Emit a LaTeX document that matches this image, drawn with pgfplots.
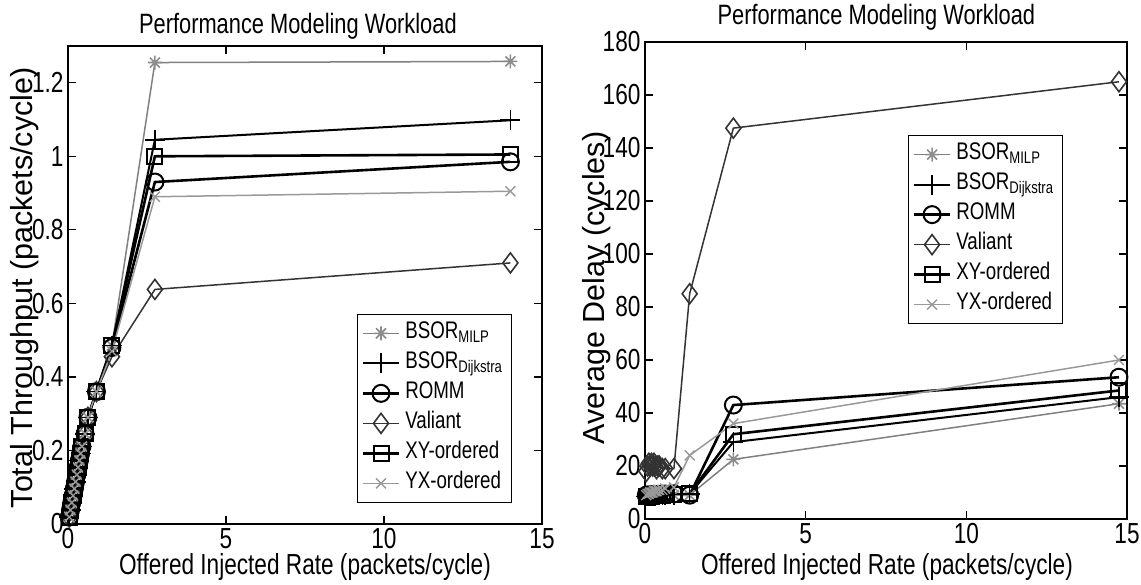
\documentclass[border=0pt]{standalone}
\usepackage{fontspec}
\setmainfont{Liberation Sans}[FakeStretch=0.78]
\newfontfamily\ylabfont{Liberation Sans}
\usepackage{pgfplots}
\pgfplotsset{compat=1.18}
\usepackage{pgfplotstable}

\pgfdeclareplotmark{mstar}{%
 \pgfpathmoveto{\pgfqpoint{-\pgfplotmarksize}{0pt}}\pgfpathlineto{\pgfqpoint{\pgfplotmarksize}{0pt}}%
 \pgfpathmoveto{\pgfqpoint{0pt}{-\pgfplotmarksize}}\pgfpathlineto{\pgfqpoint{0pt}{\pgfplotmarksize}}%
 \pgfpathmoveto{\pgfqpoint{-0.707\pgfplotmarksize}{-0.707\pgfplotmarksize}}\pgfpathlineto{\pgfqpoint{0.707\pgfplotmarksize}{0.707\pgfplotmarksize}}%
 \pgfpathmoveto{\pgfqpoint{-0.707\pgfplotmarksize}{0.707\pgfplotmarksize}}\pgfpathlineto{\pgfqpoint{0.707\pgfplotmarksize}{-0.707\pgfplotmarksize}}%
 \pgfusepathqstroke}

% throughput
\pgfplotstableread{
x     milp   dij    romm   val    xy     yx
0.04  0.019  0.019  0.019  0.019  0.019  0.019
0.08  0.038  0.038  0.038  0.038  0.038  0.038
0.12  0.058  0.058  0.058  0.058  0.058  0.058
0.16  0.077  0.077  0.077  0.077  0.077  0.077
0.20  0.096  0.096  0.096  0.096  0.096  0.096
0.24  0.115  0.115  0.115  0.115  0.115  0.115
0.28  0.134  0.134  0.134  0.134  0.134  0.134
0.32  0.154  0.154  0.154  0.154  0.154  0.154
0.36  0.173  0.173  0.173  0.173  0.173  0.173
0.40  0.192  0.192  0.192  0.192  0.192  0.192
0.44  0.211  0.211  0.211  0.211  0.211  0.211
0.54  0.245  0.245  0.245  0.245  0.245  0.245
0.63  0.290  0.290  0.290  0.290  0.290  0.290
0.90  0.360  0.360  0.360  0.360  0.360  0.360
1.39  0.485  0.485  0.480  0.455  0.485  0.470
2.75  1.255  1.045  0.930  0.638  1.000  0.890
14.0  1.258  1.098  0.985  0.710  1.005  0.905
}\thr

% delay
\pgfplotstableread{
x     milp   dij    romm   val    xy     yx
0.04  8.0    8.5    9.0    18.0   8.5    9.0
0.08  8.0    8.5    9.0    20.0   8.5    9.5
0.12  8.2    8.6    9.0    21.0   8.6    9.5
0.16  8.2    8.6    9.0    20.0   8.6    10.0
0.20  8.3    8.7    9.1    21.0   8.7    10.0
0.24  8.3    8.7    9.1    20.0   8.7    10.0
0.28  8.4    8.8    9.1    21.0   8.8    10.5
0.32  8.4    8.8    9.2    20.0   8.8    10.5
0.36  8.5    8.9    9.2    19.0   8.9    10.5
0.40  8.5    8.9    9.2    20.0   8.9    11.0
0.44  8.6    9.0    9.3    20.0   9.0    11.0
0.54  8.7    9.0    9.3    19.0   9.0    11.0
0.63  8.8    9.1    9.4    19.0   9.1    11.5
0.90  9.0    9.2    9.5    19.0   9.2    12.0
1.39  9.0    9.5    9.0    85.0   9.5    24.0
2.75  22.5   29.0   43.0   147.5  32.0   36.0
14.75 43.5   46.0   53.5   165.0  48.5   60.0
}\dly

\pgfplotsset{
  myaxis/.style={
    scale only axis,
    xmin=0, xmax=15, xtick={0,5,10,15},
    tick align=inside,
    major tick length=8pt,
    axis line style={line width=1.3pt},
    every tick/.style={line width=1.2pt, black},
    /pgf/number format/assume math mode=true,
    tick label style={font=\fontsize{29}{33}\selectfont},
    xticklabel style={yshift=-1pt},
    yticklabel style={xshift=-1pt},
    label style={font=\fontsize{29}{34}\selectfont},
    legend cell align=left,
    legend image code/.code={\draw[mark repeat=2,mark phase=2] plot coordinates {(0pt,0pt) (18pt,0pt) (36pt,0pt)};},
    legend style={font=\fontsize{24}{28}\selectfont, draw=black, line width=1.2pt,
      inner xsep=4pt, inner ysep=4pt, row sep=0pt,
      nodes={text height=17pt, text depth=7pt, inner ysep=3pt, inner xsep=5pt}},
  },
  smilp/.style={color=black!50, line width=1.5pt, mark=mstar, mark size=7pt, mark options={black!45, line width=1.6pt}},
  sdij/.style={color=black, line width=2pt, mark=+, mark size=10pt, mark options={line width=1.6pt}},
  sromm/.style={color=black, line width=2.6pt, mark=o, mark size=8.5pt, mark options={line width=2pt}},
  sval/.style={color=black!80, line width=1.5pt, mark=diamond, mark size=10pt, mark options={line width=1.6pt}},
  sxy/.style={color=black, line width=2.6pt, mark=square, mark size=7.5pt, mark options={line width=2pt}},
  syx/.style={color=black!40, line width=1.5pt, mark=x, mark size=7pt, mark options={line width=1.4pt}},
}

\begin{document}
\begin{tikzpicture}
\useasboundingbox (0pt,0pt) rectangle (1141pt,584pt);

\begin{axis}[myaxis,
  at={(68pt,60pt)}, anchor=south west,
  width=474pt, height=478pt,
  ymin=0, ymax=1.3, ytick={0,0.2,0.4,0.6,0.8,1,1.2},
  title={Performance Modeling Workload},
  title style={font=\fontsize{28}{33}\selectfont, at={(axis description cs:0.485,1.0)}, anchor=south, inner sep=0pt, yshift=0pt},
  xlabel={Offered Injected Rate (packets/cycle)},
  xlabel style={at={(axis description cs:0.5,-0.091)}, anchor=center, inner sep=0pt},
  ylabel={\ylabfont\fontsize{30.5}{34}\selectfont Total Throughput (packets/cycle)},
  ylabel style={at={(axis description cs:-0.092,0.494)}, anchor=center, rotate=0, inner sep=0pt},
  legend style={at={(0.937,0.044)}, anchor=south east},
]
\addplot[smilp] table[x=x,y=milp] {\thr};
\addlegendentry{BSOR\textsubscript{MILP}}
\addplot[sdij] table[x=x,y=dij] {\thr};
\addlegendentry{BSOR\textsubscript{Dijkstra}}
\addplot[sromm] table[x=x,y=romm] {\thr};
\addlegendentry{ROMM}
\addplot[sval] table[x=x,y=val] {\thr};
\addlegendentry{Valiant}
\addplot[sxy] table[x=x,y=xy] {\thr};
\addlegendentry{XY{-}ordered}
\addplot[syx] table[x=x,y=yx] {\thr};
\addlegendentry{YX{-}ordered}
\end{axis}

\begin{axis}[myaxis,
  at={(645pt,65pt)}, anchor=south west,
  width=482pt, height=477pt,
  ymin=0, ymax=180, ytick={0,20,...,180},
  title={Performance Modeling Workload},
  title style={font=\fontsize{28}{33}\selectfont, at={(axis description cs:0.48,1.0105)}, anchor=south, inner sep=0pt, yshift=0pt},
  xlabel={Offered Injected Rate (packets/cycle)},
  xlabel style={at={(axis description cs:0.502,-0.101)}, anchor=center, inner sep=0pt},
  ylabel={\ylabfont\fontsize{30.5}{34}\selectfont Average Delay (cycles)},
  ylabel style={at={(axis description cs:-0.100,0.484)}, anchor=center, rotate=0, inner sep=0pt},
  legend style={at={(0.546,0.805)}, anchor=north west},
]
\addplot[smilp] table[x=x,y=milp] {\dly};
\addlegendentry{BSOR\textsubscript{MILP}}
\addplot[sdij] table[x=x,y=dij] {\dly};
\addlegendentry{BSOR\textsubscript{Dijkstra}}
\addplot[sromm] table[x=x,y=romm] {\dly};
\addlegendentry{ROMM}
\addplot[sval] table[x=x,y=val] {\dly};
\addlegendentry{Valiant}
\addplot[sxy] table[x=x,y=xy] {\dly};
\addlegendentry{XY{-}ordered}
\addplot[syx] table[x=x,y=yx] {\dly};
\addlegendentry{YX{-}ordered}
\end{axis}
\end{tikzpicture}
\end{document}
